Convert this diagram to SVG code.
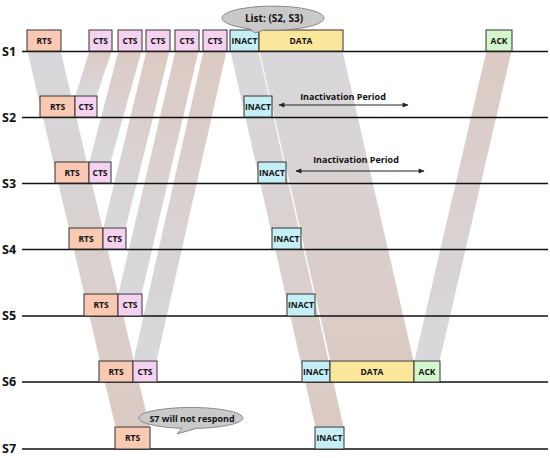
<svg xmlns="http://www.w3.org/2000/svg" width="550" height="458" viewBox="0 0 550 458">
<defs>
<linearGradient id="gDown" x1="0" y1="0" x2="0" y2="1">
<stop offset="0" stop-color="#d8d8dc"/>
<stop offset="1" stop-color="#dbcac3"/>
</linearGradient>
<linearGradient id="gUp" x1="0" y1="1" x2="0" y2="0">
<stop offset="0" stop-color="#d8d8dc"/>
<stop offset="1" stop-color="#dbcac3"/>
</linearGradient>
<marker id="ah" viewBox="0 0 10 10" refX="9" refY="5" markerWidth="10" markerHeight="6" orient="auto-start-reverse" markerUnits="userSpaceOnUse">
<path d="M0,1 L10,5 L0,9 Z" fill="#222"/>
</marker>
</defs>
<style>
text{font-family:"Open Sans","DejaVu Sans",sans-serif;font-weight:bold;fill:#111}
.lbl{font-size:12.5px}
.bt{font-size:8.5px;text-anchor:middle}
.box{stroke:#333;stroke-width:1}
.rts{fill:#f9c9b4}
.cts{fill:#f6d2f1}
.inact{fill:#c6eef6}
.data{fill:#fbe79b}
.ack{fill:#d4f6cc}
.line{stroke:#111;stroke-width:1.5}
.band{stroke:#fff;stroke-width:0.8}
.bub{fill:#c9c9c9;stroke:#8a8a8a;stroke-width:1}
.bubt{font-size:9px;text-anchor:middle}
.arr{stroke:#222;stroke-width:1;fill:none}
.ip{font-size:9px;text-anchor:middle}
</style>
<rect width="550" height="458" fill="#fff"/>
<g id="bands">
<polygon class="band" fill="url(#gDown)" points="27,51 61,51 150,427 115,427"/>
<polygon class="band" fill="url(#gUp)" points="75,96 97,96 112,51 89,51"/>
<polygon class="band" fill="url(#gUp)" points="89,162 111,162 142,51 118,51"/>
<polygon class="band" fill="url(#gUp)" points="103,228 126,228 170,51 146,51"/>
<polygon class="band" fill="url(#gUp)" points="118,294 142,294 199,51 175,51"/>
<polygon class="band" fill="url(#gUp)" points="133,361 157,361 227,51 203,51"/>
<polygon class="band" fill="url(#gDown)" points="230,51 259,51 344,427 315,427"/>
<polygon class="band" fill="url(#gDown)" points="259,51 343,51 414,361 330,361"/>
<polygon class="band" fill="url(#gUp)" points="414,361 440,361 512,51 486,51"/>
</g>
<g id="timelines">
<line class="line" x1="22" y1="51.5" x2="548" y2="51.5"/>
<line class="line" x1="22" y1="117.5" x2="548" y2="117.5"/>
<line class="line" x1="22" y1="183.5" x2="548" y2="183.5"/>
<line class="line" x1="22" y1="249.5" x2="548" y2="249.5"/>
<line class="line" x1="22" y1="316" x2="548" y2="316"/>
<line class="line" x1="22" y1="382" x2="548" y2="382"/>
<line class="line" x1="22" y1="449" x2="548" y2="449"/>
<text class="lbl" x="2" y="56">S1</text>
<text class="lbl" x="2" y="122">S2</text>
<text class="lbl" x="2" y="188">S3</text>
<text class="lbl" x="2" y="254">S4</text>
<text class="lbl" x="2" y="320">S5</text>
<text class="lbl" x="2" y="386">S6</text>
<text class="lbl" x="2" y="453">S7</text>
</g>
<g id="connectors">
<line class="arr" x1="279" y1="105" x2="408" y2="105" marker-start="url(#ah)" marker-end="url(#ah)"/>
<line class="arr" x1="296" y1="171" x2="424" y2="171" marker-start="url(#ah)" marker-end="url(#ah)"/>
</g>
<g id="s1-nodes">
<g id="s1-rts"><rect class="box rts" x="27" y="30" width="34" height="21"/><text class="bt" x="44" y="44">RTS</text></g>
<g id="s1-cts1"><rect class="box cts" x="89" y="30" width="23" height="21"/><text class="bt" x="100.5" y="44">CTS</text></g>
<g id="s1-cts2"><rect class="box cts" x="118" y="30" width="24" height="21"/><text class="bt" x="130" y="44">CTS</text></g>
<g id="s1-cts3"><rect class="box cts" x="146" y="30" width="24" height="21"/><text class="bt" x="158" y="44">CTS</text></g>
<g id="s1-cts4"><rect class="box cts" x="175" y="30" width="24" height="21"/><text class="bt" x="187" y="44">CTS</text></g>
<g id="s1-cts5"><rect class="box cts" x="203" y="30" width="24" height="21"/><text class="bt" x="215" y="44">CTS</text></g>
<g id="s1-inact"><rect class="box inact" x="230" y="30" width="29" height="21"/><text class="bt" x="244.5" y="44">INACT</text></g>
<g id="s1-data"><rect class="box data" x="259" y="30" width="84" height="21"/><text class="bt" x="301" y="44">DATA</text></g>
<g id="s1-ack"><rect class="box ack" x="486" y="30" width="26" height="21"/><text class="bt" x="499" y="44">ACK</text></g>
<g id="s1-bubble"><path class="bub" d="M250,28.8 A51,12 0 1 1 264,29.9 L255,33 Z"/><text class="bubt" x="274" y="21.5" style="font-size:10px">List: (S2, S3)</text></g>
</g>
<g id="s2-nodes">
<g id="s2-rts"><rect class="box rts" x="40" y="96" width="35" height="21"/><text class="bt" x="57.5" y="110">RTS</text></g>
<g id="s2-cts"><rect class="box cts" x="75" y="96" width="22" height="21"/><text class="bt" x="86" y="110">CTS</text></g>
<g id="s2-inact"><rect class="box inact" x="244" y="96" width="28" height="21"/><text class="bt" x="258" y="110">INACT</text></g>
<text class="ip" x="343" y="100">Inactivation Period</text>
</g>
<g id="s3-nodes">
<g id="s3-rts"><rect class="box rts" x="55" y="162" width="34" height="21"/><text class="bt" x="72" y="176">RTS</text></g>
<g id="s3-cts"><rect class="box cts" x="89" y="162" width="22" height="21"/><text class="bt" x="100" y="176">CTS</text></g>
<g id="s3-inact"><rect class="box inact" x="258" y="162" width="28" height="21"/><text class="bt" x="272" y="176">INACT</text></g>
<text class="ip" x="356" y="163">Inactivation Period</text>
</g>
<g id="s4-nodes">
<g id="s4-rts"><rect class="box rts" x="69" y="228" width="34" height="21"/><text class="bt" x="86" y="242">RTS</text></g>
<g id="s4-cts"><rect class="box cts" x="103" y="228" width="23" height="21"/><text class="bt" x="114.5" y="242">CTS</text></g>
<g id="s4-inact"><rect class="box inact" x="272" y="228" width="29" height="21"/><text class="bt" x="286.5" y="242">INACT</text></g>
</g>
<g id="s5-nodes">
<g id="s5-rts"><rect class="box rts" x="84" y="294" width="34" height="22"/><text class="bt" x="101" y="308">RTS</text></g>
<g id="s5-cts"><rect class="box cts" x="118" y="294" width="24" height="22"/><text class="bt" x="130" y="308">CTS</text></g>
<g id="s5-inact"><rect class="box inact" x="287" y="294" width="28" height="22"/><text class="bt" x="301" y="308">INACT</text></g>
</g>
<g id="s6-nodes">
<g id="s6-rts"><rect class="box rts" x="99" y="361" width="34" height="21"/><text class="bt" x="116" y="375">RTS</text></g>
<g id="s6-cts"><rect class="box cts" x="133" y="361" width="24" height="21"/><text class="bt" x="145" y="375">CTS</text></g>
<g id="s6-inact"><rect class="box inact" x="302" y="361" width="28" height="21"/><text class="bt" x="316" y="375">INACT</text></g>
<g id="s6-data"><rect class="box data" x="330" y="361" width="84" height="21"/><text class="bt" x="372" y="375">DATA</text></g>
<g id="s6-ack"><rect class="box ack" x="414" y="361" width="26" height="21"/><text class="bt" x="427" y="375">ACK</text></g>
</g>
<g id="s7-nodes">
<g id="s7-rts"><rect class="box rts" x="115" y="427" width="35" height="22"/><text class="bt" x="132.5" y="441">RTS</text></g>
<g id="s7-inact"><rect class="box inact" x="315" y="427" width="29" height="22"/><text class="bt" x="329.5" y="441">INACT</text></g>
<g id="s7-bubble"><path class="bub" d="M182,428.3 A52,10.5 0 1 1 196,428.4 L177,434 Z"/><text class="bubt" x="192" y="421.5">S7 will not respond</text></g>
</g>
</svg>
